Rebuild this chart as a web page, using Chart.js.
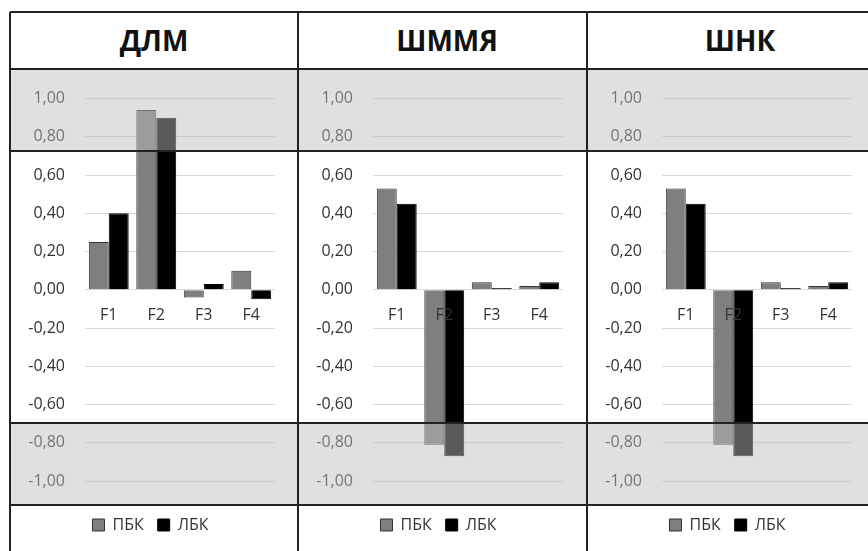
<!DOCTYPE html>
<html>
<head>
<meta charset="utf-8">
<script src="https://cdn.jsdelivr.net/npm/chart.js@4"></script>
<style>
  html, body { margin: 0; padding: 0; background: #fff; overflow: hidden; }
  #sheet { position: relative; width: 868px; height: 551px; overflow: hidden; font-family: 'Open Sans', sans-serif; }
  .title { position: absolute; top: 12px; height: 57px; line-height: 57px; width: 288px; text-align: center; font-weight: bold; font-size: 28px; color: #111; }
  canvas { position: absolute; top: 69px; }
  .band { position: absolute; left: 10px; width: 858px; height: 82px; background: rgba(190, 190, 190, 0.47); z-index: 2; }
  .hl { position: absolute; left: 10px; width: 858px; height: 2px; background: #222; z-index: 3; }
  .vl { position: absolute; top: 12px; width: 2px; height: 539px; background: #222; z-index: 3; }
</style>
</head>
<body>
<div id="sheet">
  <div class="title" style="left:10px" id="t0"></div>
  <div class="title" style="left:303px" id="t1"></div>
  <div class="title" style="left:596px" id="t2"></div>

  <canvas id="c0" width="288" height="482" style="left:10px"></canvas>
  <canvas id="c1" width="288" height="482" style="left:298px"></canvas>
  <canvas id="c2" width="288" height="482" style="left:587px"></canvas>

  <!-- серые полосы поверх графиков -->
  <div class="band" style="top:69px"></div>
  <div class="band" style="top:423px"></div>

  <!-- линии таблицы -->
  <div class="hl" style="top:11px"></div>
  <div class="hl" style="top:68px"></div>
  <div class="hl" style="top:150px"></div>
  <div class="hl" style="top:422px"></div>
  <div class="hl" style="top:504px"></div>
  <div class="vl" style="left:9px"></div>
  <div class="vl" style="left:297px"></div>
  <div class="vl" style="left:586px"></div>
</div>

<script>
// Данные
const categories = ['F1', 'F2', 'F3', 'F4'];
const seriesNames = ['ПБК', 'ЛБК'];
const panelTitles = ['ДЛМ', 'ШММЯ', 'ШНК'];

const dlmPbk = [0.25, 0.94, -0.04, 0.10];
const dlmLbk = [0.40, 0.90, 0.03, -0.05];
const shmmyaPbk = [0.53, -0.81, 0.04, 0.02];
const shmmyaLbk = [0.45, -0.87, 0.01, 0.04];
const shnkPbk = [0.53, -0.81, 0.04, 0.02];
const shnkLbk = [0.45, -0.87, 0.01, 0.04];

const yMin = -1;
const yMax = 1;
const yStep = 0.2;

Chart.defaults.font.family = "'Open Sans', sans-serif";
Chart.defaults.color = '#333333';

function fmt(v) {
    return Number(v).toFixed(2).replace('.', ',');
}

function makeChart(id, pbk, lbk) {
    new Chart(document.getElementById(id), {
        type: 'bar',
        data: {
            labels: categories,
            datasets: [{
                label: seriesNames[0],
                data: pbk,
                backgroundColor: '#7f7f7f',
                borderColor: '#333333',
                borderWidth: 1
            }, {
                label: seriesNames[1],
                data: lbk,
                backgroundColor: '#000000',
                borderColor: '#000000',
                borderWidth: 1
            }]
        },
        options: {
            responsive: false,
            animation: false,
            events: [],
            categoryPercentage: 0.84,
            barPercentage: 1.0,
            layout: {
                padding: { left: 16, right: 23, top: 28, bottom: 8 }
            },
            scales: {
                x: {
                    position: { y: 0 },
                    grid: { display: false, drawTicks: false },
                    border: { display: false },
                    // подписи поверх столбцов, как в Excel
                    ticks: { font: { size: 16 }, padding: 16, maxRotation: 0, z: 1 },
                    afterFit: (scale) => { scale.height = 0; }
                },
                y: {
                    min: yMin,
                    max: yMax,
                    grid: { color: '#d9d9d9', drawTicks: false },
                    border: { display: false },
                    ticks: {
                        stepSize: yStep,
                        font: { size: 16 },
                        padding: 20,
                        callback: (v) => fmt(v)
                    },
                    afterFit: (scale) => { scale.width = 59; }
                }
            },
            plugins: {
                tooltip: { enabled: false },
                legend: {
                    position: 'bottom',
                    title: {
                        display: true,
                        text: '',
                        font: { size: 10, lineHeight: 1 },
                        padding: { top: 12, bottom: 0 }
                    },
                    labels: {
                        boxWidth: 12,
                        boxHeight: 12,
                        padding: 14,
                        font: { size: 16 },
                        color: '#333333'
                    }
                }
            }
        }
    });
}

panelTitles.forEach((t, i) => {
    document.getElementById('t' + i).textContent = t;
});

makeChart('c0', dlmPbk, dlmLbk);
makeChart('c1', shmmyaPbk, shmmyaLbk);
makeChart('c2', shnkPbk, shnkLbk);
</script>
</body>
</html>
